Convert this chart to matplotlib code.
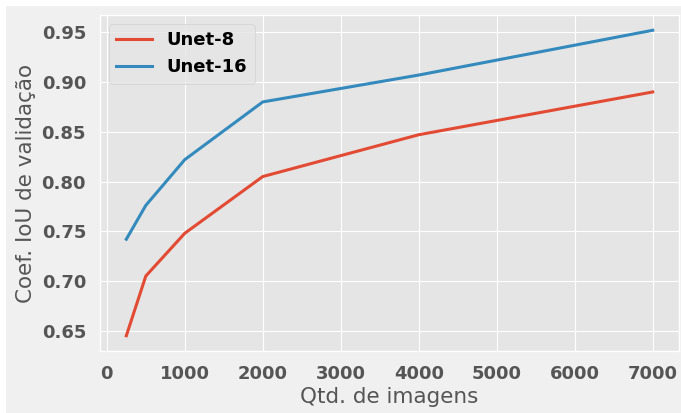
import matplotlib
matplotlib.use("Agg")
import matplotlib.pyplot as plt

# dados
qtd_imagens = [250, 500, 1000, 2000, 4000, 7000]
iou_unet8 = [0.645, 0.705, 0.748, 0.805, 0.847, 0.890]
iou_unet16 = [0.742, 0.776, 0.822, 0.880, 0.907, 0.952]

plt.style.use("ggplot")

fig = plt.figure(figsize=(6.81, 4.13), dpi=100, facecolor="white")
# fundo cinza com margem branca no topo/esquerda
fig.patches.append(plt.Rectangle((6 / 681, 0), 1, 1 - 6 / 413, transform=fig.transFigure,
                                 facecolor="#f0f0f0", edgecolor="none", zorder=-1))
ax = fig.add_axes([100 / 681, 1 - 351 / 413, 579 / 681, 336 / 413])

ax.plot(qtd_imagens, iou_unet8, label="Unet-8", color="#E24A33", linewidth=2.2)
ax.plot(qtd_imagens, iou_unet16, label="Unet-16", color="#348ABD", linewidth=2.2)

ax.set_xlabel("Qtd. de imagens", fontsize=15.5, color="#555555", labelpad=3)
ax.set_ylabel("Coef. IoU de validação", fontsize=15.5, color="#555555", labelpad=4)
ax.set_xticks(range(0, 7001, 1000))
ax.set_yticks([0.65, 0.70, 0.75, 0.80, 0.85, 0.90, 0.95])
# sem tracinhos, so os rotulos afastados
ax.tick_params(labelsize=13, colors="#555555", length=0, pad=10)
for lbl in ax.get_xticklabels() + ax.get_yticklabels():
    lbl.set_fontweight("bold")

leg = ax.legend(loc="upper left", prop={"weight": "bold", "size": 13})

fig.savefig("out.png", dpi=100)
